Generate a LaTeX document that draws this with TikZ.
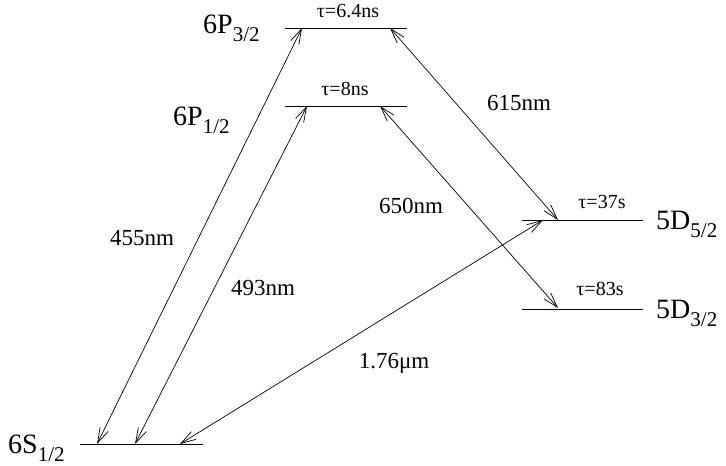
\documentclass[tikz,border=0pt]{standalone}
\usepackage{fontspec}
\setmainfont{Liberation Serif}
\usetikzlibrary{arrows.meta,positioning}
\newcommand{\lvsub}[1]{\raisebox{-0.3em}{\fontsize{21}{21}\selectfont #1}}

\begin{document}
\begin{tikzpicture}[x=1pt, y=-1pt,
      level/.style={line width=1pt, color=black},
      trans/.style={{Straight Barb[length=15pt, width=9pt]}-{Straight Barb[length=15pt, width=9pt]}, line width=0.7pt},
      term/.style={anchor=base west, inner sep=0pt, font=\fontsize{28}{30}\selectfont},
      wave/.style={anchor=base, inner sep=0pt, font=\fontsize{23}{26}\selectfont},
      life/.style={anchor=base, inner sep=0pt, font=\fontsize{20}{22}\selectfont}
    ]
      \useasboundingbox (0,0) rectangle (726,466);

      % Levels
      \coordinate (s12L) at (80,444);  \coordinate (s12R) at (203,444);
      \coordinate (p12L) at (285,106); \coordinate (p12R) at (407,106);
      \coordinate (p32L) at (285,28);  \coordinate (p32R) at (407,28);
      \coordinate (d52L) at (522,220); \coordinate (d52R) at (643,220);
      \coordinate (d32L) at (522,309); \coordinate (d32R) at (643,309);
      \draw[level] (s12L) -- (s12R);
      \draw[level] (p12L) -- (p12R);
      \draw[level] (p32L) -- (p32R);
      \draw[level] (d52L) -- (d52R);
      \draw[level] (d32L) -- (d32R);

      % Term labels
      \node[term] (s12lab) at (8,453) {6S\lvsub{1/2}};
      \node[term] (p12lab) at (173,125) {6P\lvsub{1/2}};
      \node[term] (p32lab) at (203,33) {6P\lvsub{3/2}};
      \node[term] (d52lab) at (656,229) {5D\lvsub{5/2}};
      \node[term] (d32lab) at (656,318) {5D\lvsub{3/2}};

      % Lifetimes
      \node[life] (p32tau) at (348,17) {τ=6.4ns};
      \node[life] (p12tau) at (345,95) {τ=8ns};
      \node[life] (d52tau) at (602,208) {τ=37s};
      \node[life] (d32tau) at (600,295) {τ=83s};

      % Transitions
      \coordinate (t455a) at (97,444);  \coordinate (t455b) at (302,28);
      \coordinate (t493a) at (135,444); \coordinate (t493b) at (307,106);
      \coordinate (t615a) at (390,28);  \coordinate (t615b) at (558,220);
      \coordinate (t650a) at (380,106); \coordinate (t650b) at (558,308);
      \coordinate (t176a) at (180,444); \coordinate (t176b) at (543,220);
      \draw[trans] (t455a) -- (t455b);
      \draw[trans] (t493a) -- (t493b);
      \draw[trans] (t615a) -- (t615b);
      \draw[trans] (t650a) -- (t650b);
      \draw[trans] (t176a) -- (t176b);

      \node[wave] (w455) at (142,245) {455nm};
      \node[wave] (w493) at (263,295) {493nm};
      \node[wave] (w615) at (519,110) {615nm};
      \node[wave] (w650) at (411,213) {650nm};
      \node[wave] (w176) at (394,368) {1.76μm};
    \end{tikzpicture}
\end{document}
